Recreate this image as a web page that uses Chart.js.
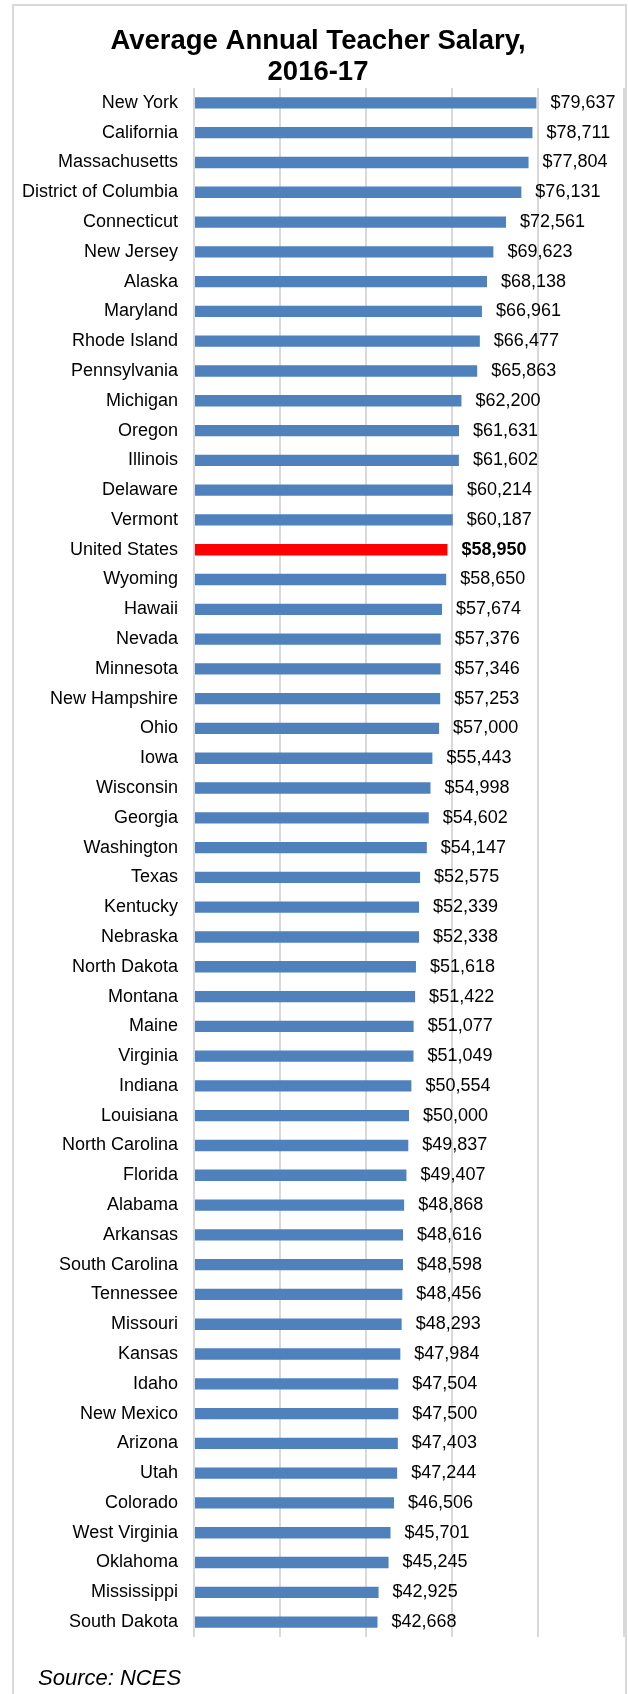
<!DOCTYPE html>
<html>
<head>
<meta charset="utf-8">
<title>Average Annual Teacher Salary, 2016-17</title>
<script src="https://cdn.jsdelivr.net/npm/chart.js@4.4.1/dist/chart.umd.min.js"></script>
<style>
    html, body { margin: 0; padding: 0; background: #fff; overflow: hidden; }
    .frame {
        position: absolute; left: 12px; top: 4px; width: 615px; height: 1720px;
        box-sizing: border-box; border: 2px solid #d9d9d9;
    }
    .chart-box { position: absolute; left: 0; top: 0; width: 628px; height: 1694px; }
</style>
</head>
<body>
<div class="frame"></div>
<div class="chart-box"><canvas id="salaryChart"></canvas></div>
<script>
const states = [
    'New York', 'California', 'Massachusetts', 'District of Columbia', 'Connecticut',
    'New Jersey', 'Alaska', 'Maryland', 'Rhode Island', 'Pennsylvania',
    'Michigan', 'Oregon', 'Illinois', 'Delaware', 'Vermont',
    'United States', 'Wyoming', 'Hawaii', 'Nevada', 'Minnesota',
    'New Hampshire', 'Ohio', 'Iowa', 'Wisconsin', 'Georgia',
    'Washington', 'Texas', 'Kentucky', 'Nebraska', 'North Dakota',
    'Montana', 'Maine', 'Virginia', 'Indiana', 'Louisiana',
    'North Carolina', 'Florida', 'Alabama', 'Arkansas', 'South Carolina',
    'Tennessee', 'Missouri', 'Kansas', 'Idaho', 'New Mexico',
    'Arizona', 'Utah', 'Colorado', 'West Virginia', 'Oklahoma',
    'Mississippi', 'South Dakota'
];
const salaries = [
    79637, 78711, 77804, 76131, 72561,
    69623, 68138, 66961, 66477, 65863,
    62200, 61631, 61602, 60214, 60187,
    58950, 58650, 57674, 57376, 57346,
    57253, 57000, 55443, 54998, 54602,
    54147, 52575, 52339, 52338, 51618,
    51422, 51077, 51049, 50554, 50000,
    49837, 49407, 48868, 48616, 48598,
    48456, 48293, 47984, 47504, 47500,
    47403, 47244, 46506, 45701, 45245,
    42925, 42668
];
const xTicks = [0, 20000, 40000, 60000, 80000, 100000];
const highlight = 'United States';
const titleLines = ['Average Annual Teacher Salary,', '2016-17'];
const sourceNote = 'Source: NCES';

const FONT = "'Liberation Sans', Arial, Helvetica, sans-serif";

// value labels at the end of each bar, bold for the national average
const valueLabels = {
    id: 'valueLabels',
    afterDatasetsDraw(chart) {
        const ctx = chart.ctx;
        const meta = chart.getDatasetMeta(0);
        ctx.save();
        ctx.textAlign = 'left';
        ctx.textBaseline = 'middle';
        ctx.fillStyle = '#000';
        meta.data.forEach((bar, i) => {
            const bold = states[i] === highlight;
            ctx.font = (bold ? 'bold ' : '') + '18px ' + FONT;
            ctx.fillText('$' + salaries[i].toLocaleString('en-US'), bar.x + 14, bar.y);
        });
        ctx.restore();
    }
};

const sourceText = {
    id: 'sourceText',
    afterDraw(chart) {
        const ctx = chart.ctx;
        ctx.save();
        ctx.font = 'italic 22px ' + FONT;
        ctx.fillStyle = '#000';
        ctx.textAlign = 'left';
        ctx.textBaseline = 'alphabetic';
        ctx.fillText(sourceNote, 38, 1685);
        ctx.restore();
    }
};

new Chart(document.getElementById('salaryChart'), {
    type: 'bar',
    data: {
        labels: states,
        datasets: [{
            data: salaries,
            backgroundColor: states.map(s => s === highlight ? '#ff0000' : '#4f81bd'),
            barPercentage: 0.38,
            categoryPercentage: 1
        }]
    },
    options: {
        indexAxis: 'y',
        responsive: true,
        maintainAspectRatio: false,
        animation: false,
        layout: { padding: { top: 0, bottom: 57, left: 12, right: 4 } },
        plugins: {
            legend: { display: false },
            tooltip: { enabled: false },
            title: {
                display: true,
                text: titleLines,
                color: '#000',
                font: { family: FONT, size: 27.5, weight: 'bold', lineHeight: 1.1 },
                padding: { top: 26.6, bottom: 0.9 }
            }
        },
        scales: {
            x: {
                position: 'bottom',
                min: 0,
                max: 100000,
                afterBuildTicks: scale => { scale.ticks = xTicks.map(v => ({ value: v })); },
                ticks: { display: false },
                grid: { color: '#d9d9d9', lineWidth: 2, drawTicks: false },
                border: { display: false }
            },
            y: {
                afterFit: scale => { scale.width = 182; },
                ticks: {
                    color: '#000',
                    padding: 16,
                    autoSkip: false,
                    font: { family: FONT, size: 18 }
                },
                grid: { display: false, drawTicks: false },
                border: { display: false }
            }
        }
    },
    plugins: [valueLabels, sourceText]
});
</script>
</body>
</html>
